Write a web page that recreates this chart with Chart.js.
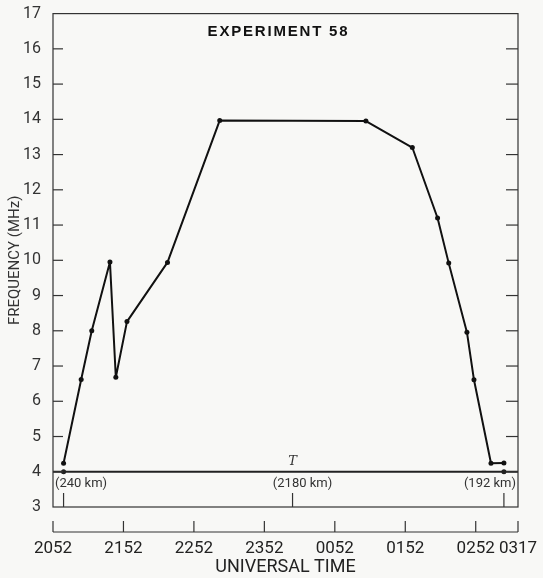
<!DOCTYPE html>
<html lang="en">
  <head>
    <meta charset="UTF-8" />
    <title>Experiment 58</title>
    <style>
      body {
        margin: 0;
        background: #f8f8f6;
        overflow: hidden;
      }
      #wrap {
        width: 543px;
        height: 578px;
      }
    </style>
  </head>
  <body>
    <div id="wrap"><canvas id="myChart"></canvas></div>
    <script src="https://cdn.jsdelivr.net/npm/chart.js"></script>
    <script>
      // time in minutes after 2052 UT, frequency in MHz
      const times = [9, 24, 33, 48.5, 53.5, 63, 97.5, 142, 266.5, 306, 327.5, 337, 352.5, 358.5, 373, 384];
      const freqs = [4.24, 6.62, 8.0, 9.95, 6.68, 8.26, 9.94, 13.97, 13.95, 13.2, 11.2, 9.92, 7.96, 6.61, 4.24, 4.25];

      // baseline at 4 MHz with the two ground-range marks
      const baseTimes = [0, 9, 384, 396];
      const baseFreqs = [4, 4, 4, 4];

      const tickMinutes = [0, 60, 120, 180, 240, 300, 360, 396];
      const tickLabels = ["2052", "2152", "2252", "2352", "0052", "0152", "0252", "0317"];

      const kmTimes = [9, 204, 384];
      const kmLabels = ["(240 km)", "(2180 km)", "(192 km)"];
      const transmitterTime = 204;

      const ink = "#222";

      const line = (ctx, x1, y1, x2, y2) => {
        ctx.beginPath();
        ctx.moveTo(x1, y1);
        ctx.lineTo(x2, y2);
        ctx.stroke();
      };

      const framePlugin = {
        id: "frame",
        afterDraw(chart) {
          const { ctx, chartArea: a } = chart;
          const x = chart.scales.x;
          const y = chart.scales.y;
          ctx.save();
          ctx.strokeStyle = "#333";
          ctx.lineWidth = 1.2;
          ctx.strokeRect(a.left, a.top, a.right - a.left, a.bottom - a.top);

          // inward ticks on both sides
          for (let v = 4; v <= 16; v++) {
            const py = y.getPixelForValue(v);
            line(ctx, a.left, py, a.left + 10, py);
            line(ctx, a.right - 12, py, a.right, py);
          }

          // time axis drawn below the box
          const axisY = a.bottom + 25;
          line(ctx, a.left, axisY, a.right, axisY);
          tickMinutes.forEach((m) => {
            const px = x.getPixelForValue(m);
            line(ctx, px, axisY, px, axisY - 11);
          });

          // ground range marks
          kmTimes.forEach((m) => {
            const px = x.getPixelForValue(m);
            line(ctx, px, a.bottom, px, a.bottom - 14);
          });

          ctx.fillStyle = "#333";
          ctx.font = "13px Roboto";
          ctx.textBaseline = "middle";
          const ky = y.getPixelForValue(4) + 12;
          ctx.textAlign = "left";
          ctx.fillText(kmLabels[0], a.left + 2, ky);
          ctx.textAlign = "center";
          ctx.fillText(kmLabels[1], x.getPixelForValue(kmTimes[1]) + 10, ky);
          ctx.textAlign = "right";
          ctx.fillText(kmLabels[2], a.right - 2, ky);

          ctx.textAlign = "center";
          ctx.font = "italic 13px 'DejaVu Serif'";
          ctx.fillText("T", x.getPixelForValue(transmitterTime), y.getPixelForValue(4) - 10);

          // title inside the box
          ctx.fillStyle = "#111";
          ctx.font = "bold 15px 'Liberation Sans'";
          ctx.letterSpacing = "1.8px";
          ctx.textAlign = "left";
          const title = "EXPERIMENT 58";
          const w = ctx.measureText(title).width;
          ctx.fillText(title, (a.left + a.right) / 2 - 7 - w / 2, a.top + 18);
          ctx.restore();
        },
      };

      const config = {
        type: "line",
        data: {
          datasets: [
            {
              data: baseTimes.map((t, i) => ({ x: t, y: baseFreqs[i] })),
              borderColor: ink,
              borderWidth: 2,
              pointRadius: [0, 2.5, 2.5, 0],
              pointBackgroundColor: ink,
              pointBorderWidth: 0,
            },
            {
              data: times.map((t, i) => ({ x: t, y: freqs[i] })),
              borderColor: "#111",
              borderWidth: 2,
              borderJoinStyle: "round",
              pointRadius: 2.5,
              pointBackgroundColor: "#111",
              pointBorderWidth: 0,
              tension: 0,
            },
          ],
        },
        options: {
          responsive: true,
          maintainAspectRatio: false,
          animation: false,
          layout: { padding: { top: 12, right: 25, left: 0, bottom: 0 } },
          plugins: {
            legend: { display: false },
            tooltip: { enabled: false },
          },
          scales: {
            x: {
              type: "linear",
              min: 0,
              max: 396,
              grid: { display: false },
              border: { display: false },
              afterBuildTicks: (scale) => {
                scale.ticks = tickMinutes.map((v) => ({ value: v }));
              },
              afterFit: (scale) => {
                scale.height = 71;
                scale.paddingLeft = 0;
                scale.paddingRight = 0;
              },
              ticks: {
                autoSkip: false,
                maxRotation: 0,
                padding: 24,
                color: "#222",
                font: { family: "Roboto", size: 17 },
                callback: (value) => tickLabels[tickMinutes.indexOf(value)],
              },
              title: {
                display: true,
                text: "UNIVERSAL TIME",
                color: "#222",
                padding: 0,
                font: { family: "Roboto", size: 18 },
              },
            },
            y: {
              min: 3,
              max: 17,
              grid: { display: false },
              border: { display: false },
              afterFit: (scale) => {
                scale.width = 53;
              },
              ticks: {
                stepSize: 1,
                padding: 4,
                color: "#333",
                font: { family: "Roboto", size: 16 },
              },
              title: {
                display: true,
                text: "FREQUENCY (MHz)",
                color: "#333",
                padding: { top: 6, bottom: 0 },
                font: { family: "Roboto", size: 15 },
              },
            },
          },
        },
        plugins: [framePlugin],
      };

      const myChart = new Chart(document.getElementById("myChart"), config);
    </script>
  </body>
</html>
